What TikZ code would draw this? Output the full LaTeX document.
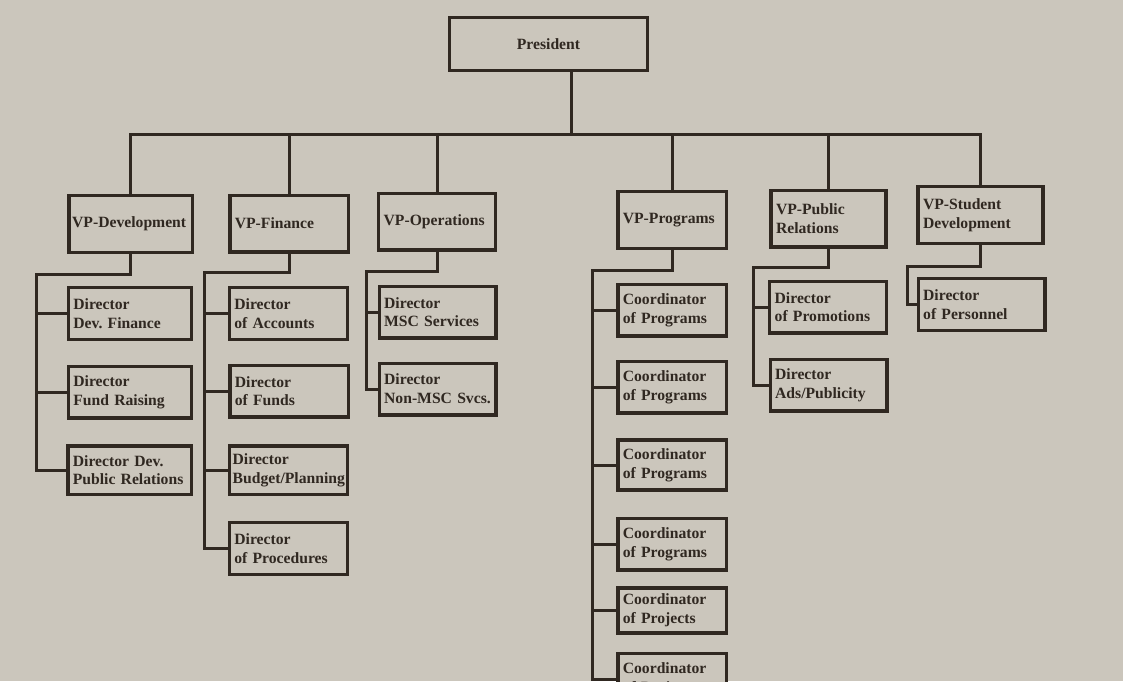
\documentclass[tikz,border=0pt]{standalone}
\usepackage{fontspec}
\setmainfont{Liberation Serif}
\definecolor{paper}{RGB}{203,198,188}
\definecolor{ink}{RGB}{48,40,33}
\tikzset{
	wire/.style={draw=ink, line width=1.8pt},
	box/.style={draw=ink, line width=2pt, fill=paper, text=ink, align=left, text width=#1,
		minimum height=31pt, inner xsep=3pt, inner ysep=2pt, font=\fontsize{9.4}{11.2}\selectfont\bfseries},
	box/.default=64pt,
	vpbox/.style={box=#1, minimum height=34pt},
	tight/.style={inner xsep=2pt},
}
\frenchspacing
\begin{document}
\begin{tikzpicture}[x=0.6pt,y=-0.6pt]
	\fill[paper] (0,0) rectangle (1123,681);
	\clip (0,0) rectangle (1123,681);

	\node[box=113pt, align=center, minimum height=32pt] (pres) at (548.5,44) {President};

	\node[vpbox=70pt, tight] (vpdev) at (130.5,224) {VP-Development};
	\node[vpbox=65pt] (vpfin) at (289,223.5) {VP-Finance};
	\node[vpbox=64pt] (vpops) at (437,221.5) {VP-Operations};
	\node[vpbox=59pt] (vpprog) at (672,220) {VP-Programs};
	\node[vpbox=63pt] (vppr) at (828.5,218.5) {VP-Public\\Relations};
	\node[vpbox=69pt] (vpsd) at (980.5,215) {VP-Student\\Development};

	% development
	\node[box=68pt] (dev1) at (130,313.5) {Director\\Dev. Finance};
	\node[box=68pt] (dev2) at (130,392) {Director\\Fund Raising};
	\node[box=68pt, minimum height=29pt] (dev3) at (129.5,470) {Director Dev.\\Public Relations};

	% finance
	\node[box=65pt] (fin1) at (288.5,313.5) {Director\\of Accounts};
	\node[box=65pt] (fin2) at (289,391) {Director\\of Funds};
	\node[box=67pt, tight, minimum height=29pt] (fin3) at (288.5,470) {Director\\Budget/Planning};
	\node[box=65pt] (fin4) at (288.5,548.5) {Director\\of Procedures};

	% operations
	\node[box] (ops1) at (437.5,312) {Director\\MSC Services};
	\node[box] (ops2) at (437.5,389) {Director\\Non-MSC Svcs.};

	% programs
	\node[box=59pt] (prog1) at (672,310) {Coordinator\\of Programs};
	\node[box=59pt] (prog2) at (672,387) {Coordinator\\of Programs};
	\node[box=59pt, minimum height=30pt] (prog3) at (672,465) {Coordinator\\of Programs};
	\node[box=59pt] (prog4) at (672,544) {Coordinator\\of Programs};
	\node[box=59pt, minimum height=27pt] (prog5) at (672,610.5) {Coordinator\\of Projects};
	\node[box=59pt] (prog6) at (672,679) {Coordinator\\of Projects};

	% public relations
	\node[box] (pr1) at (828,307) {Director\\of Promotions};
	\node[box] (pr2) at (828.5,385) {Director\\Ads/Publicity};

	% student development
	\node[box=70pt] (sd1) at (981.5,304.5) {Director\\of Personnel};

	\coordinate (bus) at (0,134);
	\coordinate (presdrop) at ([xshift=14pt]pres.south);
	\draw[wire] (presdrop) -- (presdrop |- bus);
	\draw[wire] (vpdev.north) -- (vpdev.north |- bus) -- (vpsd.north |- bus) -- (vpsd.north);
	\draw[wire] (vpfin.north) -- (vpfin.north |- bus);
	\draw[wire] (vpops.north) -- (vpops.north |- bus);
	\draw[wire] (vpprog.north) -- (vpprog.north |- bus);
	\draw[wire] (vppr.north) -- (vppr.north |- bus);

	\coordinate (devbus) at (36,274);
	\draw[wire] (vpdev.south) |- (devbus) |- (dev3.west);
	\draw[wire] (devbus |- dev1.west) -- (dev1.west);
	\draw[wire] (devbus |- dev2.west) -- (dev2.west);

	\coordinate (finbus) at (204,272);
	\draw[wire] (vpfin.south) |- (finbus) |- (fin4.west);
	\draw[wire] (finbus |- fin1.west) -- (fin1.west);
	\draw[wire] (finbus |- fin2.west) -- (fin2.west);
	\draw[wire] (finbus |- fin3.west) -- (fin3.west);

	\coordinate (opsbus) at (366,271);
	\draw[wire] (vpops.south) |- (opsbus) |- (ops2.west);
	\draw[wire] (opsbus |- ops1.west) -- (ops1.west);

	\coordinate (progbus) at (592,270);
	\draw[wire] (vpprog.south) |- (progbus) |- (prog6.west);
	\draw[wire] (progbus |- prog1.west) -- (prog1.west);
	\draw[wire] (progbus |- prog2.west) -- (prog2.west);
	\draw[wire] (progbus |- prog3.west) -- (prog3.west);
	\draw[wire] (progbus |- prog4.west) -- (prog4.west);
	\draw[wire] (progbus |- prog5.west) -- (prog5.west);

	\coordinate (prbus) at (753,267);
	\draw[wire] (vppr.south) |- (prbus) |- (pr2.west);
	\draw[wire] (prbus |- pr1.west) -- (pr1.west);

	\coordinate (sdbus) at (907,266);
	\draw[wire] (vpsd.south) |- (sdbus) |- (sd1.west);
\end{tikzpicture}
\end{document}
